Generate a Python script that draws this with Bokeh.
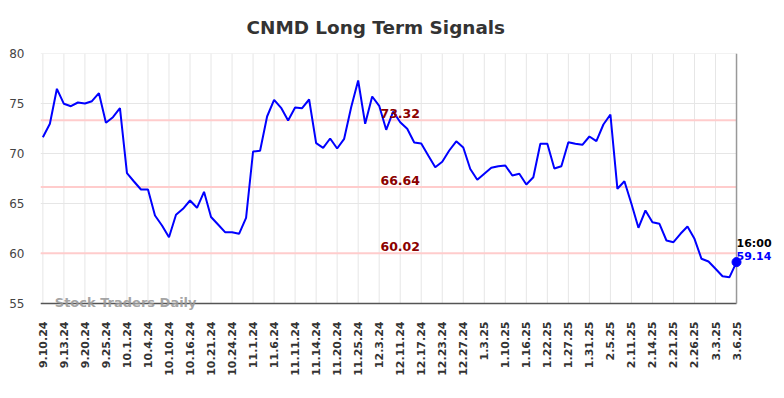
import math
from bokeh.plotting import figure
from bokeh.models import ColumnDataSource, FixedTicker, Label, Range1d
from bokeh.embed import file_html
from bokeh.resources import INLINE

# ---- data ----
prices = [
    71.63, 72.97, 76.47, 74.97, 74.73, 75.10, 75.00, 75.23, 76.03, 73.07,
    73.63, 74.53, 68.03, 67.20, 66.40, 66.40, 63.80, 62.80, 61.63, 63.87,
    64.47, 65.30, 64.57, 66.17, 63.65, 62.90, 62.13, 62.13, 61.97, 63.57,
    70.20, 70.27, 73.70, 75.37, 74.57, 73.30, 74.60, 74.53, 75.40, 71.03,
    70.57, 71.50, 70.50, 71.47, 74.63, 77.30, 72.97, 75.70, 74.77, 72.37,
    74.20, 73.13, 72.47, 71.10, 71.00, 69.80, 68.63, 69.17, 70.30, 71.22,
    70.60, 68.45, 67.37, 67.97, 68.57, 68.73, 68.80, 67.80, 67.97, 66.90,
    67.63, 70.97, 70.97, 68.50, 68.73, 71.13, 70.97, 70.87, 71.70, 71.23,
    72.90, 73.90, 66.47, 67.23, 64.97, 62.57, 64.30, 63.13, 62.97, 61.30,
    61.13, 61.97, 62.70, 61.47, 59.47, 59.20, 58.47, 57.73, 57.63, 59.14,
]
tick_labels = [
    "9.10.24", "9.13.24", "9.20.24", "9.25.24", "10.1.24", "10.4.24",
    "10.10.24", "10.16.24", "10.21.24", "10.24.24", "11.1.24", "11.6.24",
    "11.11.24", "11.14.24", "11.20.24", "11.25.24", "12.3.24", "12.11.24",
    "12.17.24", "12.23.24", "12.27.24", "1.3.25", "1.10.25", "1.16.25",
    "1.22.25", "1.27.25", "1.31.25", "2.5.25", "2.11.25", "2.14.25",
    "2.21.25", "2.26.25", "3.3.25", "3.6.25",
]
tick_step = 3
signal_levels = [73.32, 66.64, 60.02]
last_time = "16:00"
y_ticks = [55, 60, 65, 70, 75, 80]

xs = list(range(len(prices)))
ticks = list(range(0, len(prices), tick_step))
last_x = xs[-1]
src = ColumnDataSource(dict(x=xs, y=prices))

x_start = -0.34
x_end = last_x + 5.42
y_lo, y_hi = y_ticks[0], y_ticks[-1]

p = figure(
    width=784, height=398,
    output_backend="svg", toolbar_location=None,
    x_range=Range1d(x_start, x_end),
    y_range=Range1d(y_lo - 1.1, y_hi),
    min_border_left=40, min_border_right=10,
    min_border_top=53, min_border_bottom=84,
    title="CNMD Long Term Signals",
)
p.title.text_font = "DejaVu Sans"
p.title.text_font_size = "18.4px"
p.title.text_font_style = "bold"
p.title.text_color = "#333333"
p.title.align = "left"
p.title.vertical_align = "middle"
p.title.offset = 206
p.title.standoff = 30

p.outline_line_color = None
p.background_fill_color = "white"
p.border_fill_color = "white"
p.xgrid.visible = False
p.ygrid.visible = False

# x axis
p.xaxis.ticker = FixedTicker(ticks=ticks)
p.xaxis.major_label_overrides = {t: lab for t, lab in zip(ticks, tick_labels)}
p.xaxis.major_label_orientation = math.pi / 2
p.xaxis.major_label_text_font = "DejaVu Sans"
p.xaxis.major_label_text_font_size = "11px"
p.xaxis.major_label_text_font_style = "bold"
p.xaxis.major_label_text_color = "#333333"
p.xaxis.major_tick_line_color = None
p.xaxis.major_tick_out = 0
p.xaxis.major_tick_in = 0
p.xaxis.minor_tick_line_color = None
p.xaxis.major_label_standoff = 7
p.xaxis.axis_line_color = None

# y axis
p.yaxis.ticker = FixedTicker(ticks=y_ticks)
p.yaxis.major_label_text_font = "DejaVu Sans"
p.yaxis.major_label_text_font_size = "12px"
p.yaxis.major_label_text_color = "#444444"
p.yaxis.major_tick_line_color = None
p.yaxis.major_tick_out = 0
p.yaxis.major_tick_in = 0
p.yaxis.minor_tick_line_color = None
p.yaxis.axis_line_color = None
p.yaxis.major_label_standoff = 16

# grid lines (ending at the last data point)
p.segment(x0=[x_start] * len(y_ticks), y0=y_ticks, x1=[last_x] * len(y_ticks), y1=y_ticks,
          line_color="#e6e6e6", line_width=1)
p.segment(x0=ticks, y0=[y_lo] * len(ticks), x1=ticks, y1=[y_hi] * len(ticks),
          line_color="#e6e6e6", line_width=1)

# signal lines
p.segment(x0=[x_start] * len(signal_levels), y0=signal_levels,
          x1=[last_x] * len(signal_levels), y1=signal_levels,
          line_color="#ffcccc", line_width=2)
for lvl in signal_levels:
    p.add_layout(Label(x=51, y=lvl, y_offset=2, text=f"{lvl:.2f}", text_align="center",
                       text_baseline="bottom", text_font="DejaVu Sans", text_font_size="12.5px",
                       text_font_style="bold", text_color="#8b0000"))

# axis line and right border line
p.segment(x0=[x_start], y0=[y_lo], x1=[last_x], y1=[y_lo], line_color="#555555", line_width=1.5)
p.segment(x0=[last_x], y0=[y_lo], x1=[last_x], y1=[y_hi], line_color="#999999", line_width=1.5)

p.line("x", "y", source=src, line_color="#0000ff", line_width=2)
p.scatter(x=[last_x], y=[prices[-1]], size=9, color="#0000ff")

p.add_layout(Label(x=last_x, y=prices[-1], y_offset=19, text=last_time, text_align="left",
                   text_baseline="alphabetic", text_font="DejaVu Sans", text_font_size="11px",
                   text_font_style="bold", text_color="#000000"))
p.add_layout(Label(x=last_x, y=prices[-1], y_offset=6, text=f"{prices[-1]:.2f}", text_align="left",
                   text_baseline="alphabetic", text_font="DejaVu Sans", text_font_size="11px",
                   text_font_style="bold", text_color="#0000ff"))

# watermark
p.add_layout(Label(x=1.7, y=y_lo, y_offset=1, text="Stock Traders Daily", text_align="left",
                   text_baseline="middle", text_font="DejaVu Sans", text_font_size="13px",
                   text_font_style="bold", text_color="#999999", text_alpha=0.9))

open("out.html", "w").write(file_html(p, INLINE))
